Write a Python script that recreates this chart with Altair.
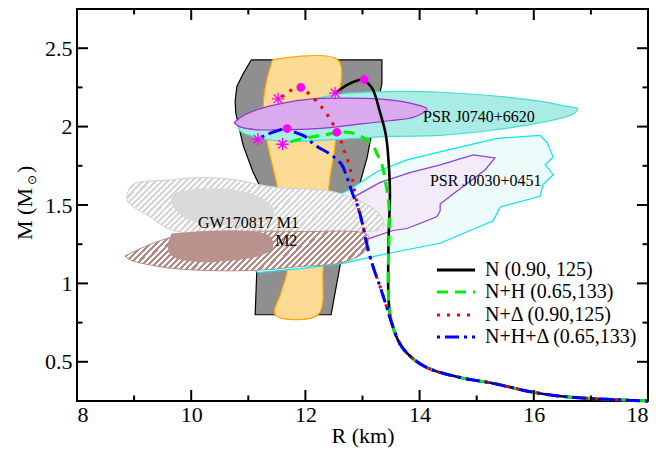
import math
import altair as alt
import pandas as pd

FONT = "Liberation Serif"
W, H = 571, 392

# ---------------- curves (R in km, M in solar masses) ----------------
# low-mass branch shared by all four EoS
low_R = [18.0, 16.63, 15.99, 15.29, 14.71, 14.13, 13.83, 13.66, 13.52]
low_M = [0.25, 0.275, 0.306, 0.3625, 0.40, 0.4625, 0.5375, 0.6125, 0.7375]

n_R = [13.46, 13.45, 13.46, 13.48, 13.46, 13.41, 13.31, 13.18, 13.10, 13.03, 12.78, 12.52]
n_M = [0.88, 1.07, 1.32, 1.57, 1.756, 1.944, 2.0875, 2.2375, 2.275, 2.30, 2.275, 2.214]

nh_R = [13.46, 13.45, 13.47, 13.46, 13.41, 13.34, 13.25, 13.18, 13.01, 12.78, 12.55, 12.38, 12.17, 11.91, 11.61]
nh_M = [0.88, 1.07, 1.38, 1.506, 1.631, 1.756, 1.83, 1.88, 1.93, 1.9625, 1.964, 1.95, 1.9375, 1.92, 1.8875]

nd_R = [13.44, 13.34, 13.18, 13.10, 13.01, 12.92, 12.85, 12.82, 12.73, 12.66, 12.61, 12.54, 12.45,
        12.36, 12.24, 12.12, 11.92, 11.80, 11.68, 11.52]
nd_M = [0.83, 0.944, 1.1125, 1.2125, 1.3625, 1.4875, 1.61, 1.675, 1.80, 1.8625, 1.925, 1.975, 2.0375,
        2.0875, 2.144, 2.1875, 2.25, 2.244, 2.2125, 2.175]

nhd_R = [13.44, 13.34, 13.18, 13.10, 13.01, 12.92, 12.83, 12.73, 12.63, 12.43, 12.17, 11.99, 11.78,
         11.68, 11.47, 11.29, 11.17]
nhd_M = [0.83, 0.944, 1.1125, 1.2125, 1.3625, 1.4875, 1.569, 1.675, 1.76, 1.825, 1.881, 1.9375, 1.969,
         1.9875, 1.969, 1.944, 1.919]

# maximum-mass points and the asterisk points
dot_R = [13.03, 11.92, 12.55, 11.68]
dot_M = [2.30, 2.25, 1.964, 1.9875]
star_R = [12.52, 11.52, 11.17, 11.60]
star_M = [2.214, 2.177, 1.92, 1.8875]

# ---------------- constraint regions ----------------
band_R = [11.05, 10.91, 10.80, 10.77, 10.78, 10.91, 11.08, 11.19, 11.17, 11.15, 11.12,
          12.45, 12.61, 12.75, 12.90, 13.08, 13.18, 13.34, 13.34]
band_M = [2.425, 2.3375, 2.256, 2.1625, 2.0875, 1.88, 1.7125, 1.63, 1.38, 1.0875, 0.80,
          0.80, 1.12, 1.32, 1.57, 1.80, 1.99, 2.275, 2.425]

orange_R = [11.42, 11.29, 11.26, 11.33, 11.42, 11.50, 11.59, 11.68, 11.57, 11.47,
            12.22, 12.31, 12.36, 12.43, 12.50, 12.57, 12.57]
orange_M = [2.425, 2.2375, 2.069, 1.90, 1.756, 1.63, 1.38, 1.0875, 0.94, 0.80,
            0.80, 1.0875, 1.38, 1.675, 1.82, 2.131, 2.425]

j0030_R = [11.03, 11.17, 11.91, 12.61, 13.48, 14.36, 15.29, 15.41, 16.11, 16.16, 16.34, 16.20, 16.34,
           16.23, 16.11, 15.36, 14.48, 13.78, 13.25, 12.78, 12.26, 11.38, 10.94]
j0030_M = [1.106, 1.069, 1.094, 1.125, 1.194, 1.256, 1.40, 1.4875, 1.556, 1.631, 1.694, 1.756, 1.806,
           1.90, 1.944, 1.925, 1.85, 1.7875, 1.7125, 1.60, 1.506, 1.319, 1.144]

j0030in_R = [12.78, 13.31, 13.83, 14.36, 14.94, 15.32, 15.15, 14.88, 14.65, 14.36, 14.36, 14.30,
             13.78, 13.53, 13.13, 12.69, 12.52]
j0030in_M = [1.5375, 1.644, 1.706, 1.756, 1.819, 1.80, 1.725, 1.65, 1.5875, 1.506, 1.4625, 1.425,
             1.35, 1.3375, 1.2875, 1.244, 1.4125]

m1_R = [8.876, 8.98, 9.63, 10.21, 10.80, 11.20, 11.56, 12.43, 12.96, 13.25, 13.36, 13.36, 12.96,
        11.03, 9.68, 9.28, 8.89]
m1_M = [1.569, 1.631, 1.66, 1.675, 1.66, 1.63, 1.61, 1.59, 1.525, 1.46, 1.40, 1.356, 1.325,
        1.325, 1.3375, 1.425, 1.52]
m1in_R = [9.68, 10.21, 10.80, 11.20, 11.43, 11.40, 10.88, 10.17, 9.79, 9.65]
m1in_M = [1.581, 1.606, 1.594, 1.55, 1.4875, 1.4125, 1.381, 1.381, 1.444, 1.519]

m2_R = [8.84, 9.33, 9.93, 10.68, 11.91, 13.08, 13.10, 13.01, 12.61, 11.85, 11.33, 10.45, 9.58, 8.93]
m2_M = [1.175, 1.256, 1.319, 1.331, 1.331, 1.3125, 1.269, 1.194, 1.131, 1.106, 1.0875, 1.081, 1.10, 1.15]
m2in_R = [9.66, 10.85, 11.38, 11.43, 11.24, 10.68, 10.07, 9.66, 9.59]
m2in_M = [1.319, 1.338, 1.30, 1.231, 1.181, 1.144, 1.1375, 1.175, 1.244]

j0740_R = [10.82, 11.20, 11.91, 12.55, 13.66, 14.36, 15.53, 16.11, 16.55, 16.77, 16.69, 16.11, 15.23,
           14.36, 13.48, 12.61, 11.61, 11.08, 10.85]
j0740_M = [2.006, 2.081, 2.15, 2.206, 2.225, 2.219, 2.1875, 2.1625, 2.131, 2.1125, 2.081, 2.025, 1.975,
           1.944, 1.9375, 1.919, 1.906, 1.9375, 1.975]
j0740in_R = [10.75, 10.91, 11.20, 11.61, 12.08, 12.61, 13.31, 13.83, 14.13, 13.92, 13.48, 13.01, 12.43,
             11.73, 11.12, 10.85]
j0740in_M = [2.025, 2.069, 2.1125, 2.15, 2.175, 2.181, 2.175, 2.15, 2.1125, 2.0625, 2.0375, 2.019, 1.994,
             1.981, 1.981, 2.0]

# annotations
ann_text = ["PSR J0740+6620", "PSR J0030+0451", "GW170817 M1", "M2"]
ann_R = [14.06, 14.18, 10.12, 11.47]
ann_M = [2.06, 1.655, 1.3875, 1.269]

legend_labels = ["N (0.90, 125)", "N+H (0.65,133)", "N+\u0394 (0.90,125)", "N+H+\u0394 (0.65,133)"]

# axis ticks
xmaj = [8, 10, 12, 14, 16, 18]
xmin = [9, 11, 13, 15, 17]
ymaj = [0.5, 1.0, 1.5, 2.0, 2.5]
ymin = [0.75, 1.25, 1.75, 2.25]

# ---------------- helpers ----------------
xs = alt.Scale(domain=[8, 18], nice=False, zero=False)
ys = alt.Scale(domain=[0.25, 2.75], nice=False, zero=False)


def enc(chart, xaxis=None, yaxis=None):
    return chart.encode(
        x=alt.X("R:Q", scale=xs, axis=xaxis),
        y=alt.Y("M:Q", scale=ys, axis=yaxis),
        order=alt.Order("i:Q"),
    )


def frame(R, M, close=True):
    R2, M2 = list(R), list(M)
    if close:
        R2.append(R2[0])
        M2.append(M2[0])
    return pd.DataFrame({"R": R2, "M": M2, "i": list(range(len(R2)))})


def poly(R, M, fill, stroke, sw=1.0, interp="linear"):
    return enc(alt.Chart(frame(R, M)).mark_line(
        fill=fill, stroke=stroke, strokeWidth=sw, interpolate=interp))


def hatch(R, M, color, period=4.3, duty=0.5):
    wpx = (max(R) - min(R)) * W / 10.0
    hpx = (max(M) - min(M)) * H / 2.5
    a = (wpx + hpx) / (wpx ** 2 + hpx ** 2)
    n = (wpx + hpx) / (period * math.sqrt(2))
    step = 1.0 / n
    stops = []
    t = 0.0
    while t < 1.0:
        t1 = min(t + step * duty, 1.0)
        t2 = min(t + step, 1.0)
        stops += [(t, color), (t1, color), (t1, "#ffffff"), (t2, "#ffffff")]
        t += step
    return alt.LinearGradient(
        gradient="linear",
        stops=[alt.GradientStop(offset=round(o, 5), color=c) for o, c in stops],
        x1=0, y1=0, x2=a * wpx, y2=a * hpx)


def curve(R, M, color, dash, width):
    return enc(alt.Chart(frame(low_R + R, low_M + M, close=False)).mark_line(
        stroke=color, strokeDash=dash, strokeWidth=width, interpolate="catmull-rom"))


def xticks(values, length):
    df = pd.DataFrame({"v": values})
    base = alt.Chart(df).mark_rule(stroke="black", strokeWidth=2)
    xe = alt.X("v:Q", scale=xs, axis=None)
    return [base.encode(x=xe, y=alt.value(H), y2=alt.value(H - length)),
            base.encode(x=xe, y=alt.value(0), y2=alt.value(length))]


def yticks(values, length):
    df = pd.DataFrame({"v": values})
    base = alt.Chart(df).mark_rule(stroke="black", strokeWidth=2)
    ye = alt.Y("v:Q", scale=ys, axis=None)
    return [base.encode(y=ye, x=alt.value(0), x2=alt.value(length)),
            base.encode(y=ye, x=alt.value(W), x2=alt.value(W - length))]


holder = frame(low_R, low_M, close=False)

main_axes = enc(
    alt.Chart(holder).mark_point(opacity=0),
    xaxis=alt.Axis(orient="bottom", values=xmaj, format="d", ticks=False, domain=False, grid=False,
                   labelFont=FONT, labelFontSize=22, labelColor="black", labelPadding=3,
                   title="R (km)", titleFont=FONT, titleFontSize=22, titleFontWeight="normal",
                   titleColor="black", titlePadding=0),
    yaxis=alt.Axis(orient="left", values=ymaj, format="~g", ticks=False, domain=False, grid=False,
                   labelFont=FONT, labelFontSize=22, labelColor="black", labelPadding=5,
                   title=None),
)

tick_layers = xticks(xmaj, 11) + xticks(xmin, 5.5) + yticks(ymaj, 11) + yticks(ymin, 5.5)

regions = [
    poly(band_R, band_M, "#8f8f8f", "#000000", 1.2),
    poly(orange_R, orange_M, "#fcdc94", "#ffa500", 1.2, "catmull-rom"),
    poly(j0030_R, j0030_M, "#eefbfb", "#00e8f0", 1.2),
    poly(j0030in_R, j0030in_M, "#f3ebfa", "#8c3fd0", 1.2),
    poly(m1_R, m1_M, hatch(m1_R, m1_M, "#d6d6d6"), "#d0d0d0", 1.0, "catmull-rom"),
    poly(m1in_R, m1in_M, "#dadada", None, 0, "catmull-rom"),
    poly(m2_R, m2_M, hatch(m2_R, m2_M, "#b48a85"), "#b48a85", 1.0, "catmull-rom"),
    poly(m2in_R, m2in_M, "#b9928d", None, 0, "catmull-rom"),
    poly(j0740_R, j0740_M, "#a9ece5", "#40e0d0", 1.2, "catmull-rom"),
    poly(j0740in_R, j0740in_M, "#d9aaee", "#9932cc", 1.2, "catmull-rom"),
]

curves = [
    curve(n_R, n_M, "#000000", [1, 0], 2.6),
    curve(nh_R, nh_M, "#00ee00", [11, 7], 3),
    curve(nd_R, nd_M, "#ff0000", [3, 7], 3),
    curve(nhd_R, nhd_M, "#0000ff", [3, 5, 14, 5], 3),
]

dots = enc(alt.Chart(pd.DataFrame({"R": dot_R, "M": dot_M, "i": range(4)})).mark_point(
    filled=True, shape="circle", size=75, color="#ff00ff", opacity=1))
stars = enc(alt.Chart(pd.DataFrame({"R": star_R, "M": star_M, "i": range(4)})).mark_point(
    shape="M-1,0L1,0M0,-1L0,1M-0.7,-0.7L0.7,0.7M-0.7,0.7L0.7,-0.7",
    size=150, filled=False, stroke="#ff00ff", strokeWidth=1.3, opacity=1))

ann = alt.Chart(pd.DataFrame({"R": ann_R, "M": ann_M, "t": ann_text})).mark_text(
    font=FONT, fontSize=16, align="left", baseline="middle", color="black").encode(
    x=alt.X("R:Q", scale=xs, axis=None), y=alt.Y("M:Q", scale=ys, axis=None), text="t:N")

# legend (drawn by hand, pixel positions relative to the plot area)
one = pd.DataFrame({"a": [0]})
leg_styles = [("#000000", [1, 0]), ("#00ee00", [11, 7]), ("#ff0000", [3, 7]), ("#0000ff", [3, 5, 14, 5])]
leg_y = [261, 283, 306, 328]
legend_layers = []
for (col, dash), yy, lab in zip(leg_styles, leg_y, legend_labels):
    legend_layers.append(alt.Chart(one).mark_rule(stroke=col, strokeDash=dash, strokeWidth=3).encode(
        x=alt.value(360), x2=alt.value(398), y=alt.value(yy)))
    legend_layers.append(alt.Chart(one).mark_text(
        font=FONT, fontSize=20, align="left", baseline="middle", color="black").encode(
        x=alt.value(408), y=alt.value(yy), text=alt.value(lab)))

# y-axis title  M (M_sun)
ytitle = [
    alt.Chart(one).mark_text(font=FONT, fontSize=22, angle=270, align="left", baseline="middle",
                             color="black").encode(x=alt.value(-52), y=alt.value(231), text=alt.value("M (M")),
    alt.Chart(one).mark_text(font="DejaVu Sans", fontSize=12, angle=270, align="center", baseline="middle",
                             color="black").encode(x=alt.value(-45), y=alt.value(171), text=alt.value("\u2299")),
    alt.Chart(one).mark_text(font=FONT, fontSize=22, angle=270, align="left", baseline="middle",
                             color="black").encode(x=alt.value(-52), y=alt.value(164), text=alt.value(")")),
]

chart = alt.layer(
    main_axes, *regions, *curves, dots, stars, ann, *legend_layers, *ytitle, *tick_layers
).resolve_axis(x="independent", y="independent").properties(
    width=W, height=H,
    autosize=alt.AutoSizeParams(type="none"),
    padding={"left": 69, "top": 1, "right": 6, "bottom": 49},
).configure_view(stroke="black", strokeWidth=2)

chart.save("out.html", embed_options={"renderer": "svg", "actions": False})
